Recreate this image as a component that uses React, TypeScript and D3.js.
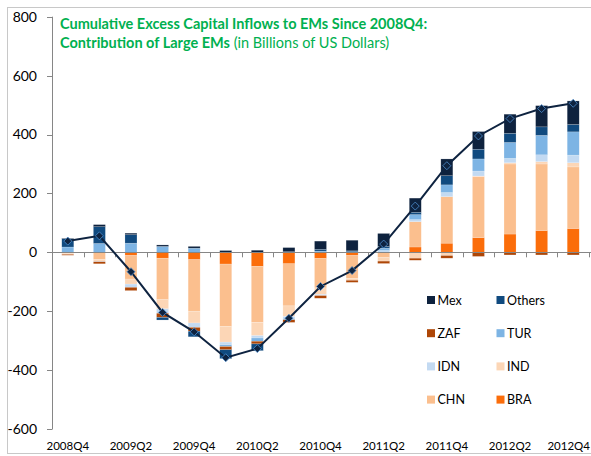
import * as d3 from 'd3';

const quarters = [
  '2008Q4', '2009Q1', '2009Q2', '2009Q3', '2009Q4', '2010Q1', '2010Q2', '2010Q3', '2010Q4',
  '2011Q1', '2011Q2', '2011Q3', '2011Q4', '2012Q1', '2012Q2', '2012Q3', '2012Q4',
];

// stacked contributions, billions USD
const BRA = [0, 0, -11, -20, -25, -40, -48, -39, -21, -11, 0, 18, 31, 50, 62, 74, 81];
const CHN = [-4, -24, -80, -141, -175, -212, -190, -143, -100, -78, -18, 86, 158, 207, 238, 226, 209];
const IND = [-3, -6, -17, -31, -40, -53, -45, -36, -22, -6, -12, -20, -11, 2, 4, 8, 14];
const IDN = [0, -2, -11, -15, -15, -9, -8, -7, -4, 0, 6, 7, 14, 17, 15, 23, 26];
const TUR = [18, 30, 31, 20, 14, -6, -11, -4, 4, 2, 8, 17, 26, 41, 54, 66, 79];
const ZAF = [-3, -7, -11, -14, -13, -11, -9, -9, -9, -7, -8, -7, -9, -14, -9, -9, -9];
const Others = [28, 57, 29, -9, -19, -30, -23, 2, 6, 3, 6, 8, 31, 33, 31, 29, 25];
const Mex = [2, 7, 5, 5, 6, 6, 7, 14, 28, 36, 44, 48, 57, 60, 65, 72, 80];

// total line
const total = [38, 56, -66, -204, -270, -358, -327, -224, -116, -62, 28, 157, 294, 395, 454, 488, 506];

const yTicks = [-600, -400, -200, 0, 200, 400, 600, 800];

const seriesKeys = ['BRA', 'CHN', 'IND', 'IDN', 'TUR', 'ZAF', 'Others', 'Mex'];
const seriesValues: Record<string, number[]> = { BRA, CHN, IND, IDN, TUR, ZAF, Others, Mex };
const colors: Record<string, string> = {
  BRA: '#fb6d0a',
  CHN: '#fbbf8e',
  IND: '#fcd6b6',
  IDN: '#c3daf2',
  TUR: '#7db4e4',
  ZAF: '#ae4606',
  Others: '#104a7f',
  Mex: '#0e223e',
};
const legendOrder = [['Mex', 'Others'], ['ZAF', 'TUR'], ['IDN', 'IND'], ['CHN', 'BRA']];

const W = 591;
const H = 456;
const font = 'Lato, "Open Sans", sans-serif';

export default function App() {
  const rows = quarters.map((q, i) => {
    const r: Record<string, any> = { q };
    seriesKeys.forEach(k => { r[k] = seriesValues[k][i]; });
    return r;
  });
  const stacked = d3.stack<any>().keys(seriesKeys).offset(d3.stackOffsetDiverging)(rows);

  const x = d3.scaleBand().domain(quarters).range([52, 589]).paddingInner(0.62).paddingOuter(0.31);
  const y = d3.scaleLinear().domain([-600, 800]).range([429, 16.7]);
  const step = x.step();
  const bw = x.bandwidth();
  const cx = (q: string) => (x(q) as number) + bw / 2;

  const line = d3.line<number>()
    .x((_, i) => cx(quarters[i]))
    .y(d => y(d));

  const grey = '#868686';

  return (
    <div style={{ position: 'absolute', left: 0, top: 0 }}>
      <svg width={W} height={H} style={{ display: 'block', background: '#fff' }} fontFamily={font}>
        <rect x={7.5} y={7.5} width={620} height={446} fill="none" stroke="#c8c8c8" />

        {stacked.map(s => (
          <g key={s.key} fill={colors[s.key]}>
            {s.map((d, i) => {
              const y0 = y(Math.max(d[0], d[1]));
              const y1 = y(Math.min(d[0], d[1]));
              if (y1 - y0 <= 0) return null;
              return (
                <rect key={i} x={x(quarters[i])} y={y0} width={bw} height={y1 - y0}
                  stroke="#ffffff" strokeOpacity={0.35} strokeWidth={0.5} />
              );
            })}
          </g>
        ))}

        {/* y axis */}
        <line x1={52.5} x2={52.5} y1={y(800)} y2={y(-600)} stroke={grey} />
        {yTicks.map(t => (
          <g key={t}>
            <line x1={47} x2={52.5} y1={Math.round(y(t)) + 0.5} y2={Math.round(y(t)) + 0.5} stroke={grey} />
            <text x={37} y={y(t)} dy="0.35em" textAnchor="end" fontSize={14} fill="#000">{t}</text>
          </g>
        ))}

        {/* x axis at zero */}
        <line x1={52} x2={W} y1={Math.round(y(0)) + 0.5} y2={Math.round(y(0)) + 0.5} stroke={grey} />
        {d3.range(quarters.length + 1).map(k => {
          const xx = Math.round(52 + step * k) + 0.5;
          return <line key={k} x1={xx} x2={xx} y1={y(0)} y2={y(0) + 5} stroke={grey} />;
        })}
        {quarters.map((q, i) => {
          if (i % 2 !== 0) return null;
          const last = i === quarters.length - 1;
          return (
            <text key={q} x={last ? W - 1 : cx(q)} y={450} textAnchor={last ? 'end' : 'middle'}
              fontSize={11.5} fill="#000">{q}</text>
          );
        })}

        {/* total line */}
        <path d={line(total) || ''} fill="none" stroke="#0e2340" strokeWidth={2} />
        {total.map((v, i) => {
          const px = cx(quarters[i]);
          const py = y(v);
          return (
            <path key={i} d={`M${px},${py - 4}L${px + 4},${py}L${px},${py + 4}L${px - 4},${py}Z`}
              fill="#0e2340" stroke="#4f8fcf" strokeWidth={0.8} />
          );
        })}

        {/* title */}
        <text x={60} y={29} fontSize={14.5} fontWeight="bold" fill="#00b050">
          Cumulative Excess Capital Inflows to EMs Since 2008Q4:
        </text>
        <text x={60} y={48} fontSize={14.5} fill="#00b050">
          <tspan fontWeight="bold">Contribution of Large EMs</tspan>
          <tspan> (in Billions of US Dollars)</tspan>
        </text>

        {/* legend */}
        {legendOrder.map((row, r) => row.map((k, c) => {
          const lx = 427 + c * 69.5;
          const ly = 300 + r * 33.2;
          return (
            <g key={k}>
              <rect x={lx} y={ly - 4} width={8} height={8} fill={colors[k]} />
              <text x={lx + 10.5} y={ly} dy="0.36em" fontSize={12.5} fill="#000">{k}</text>
            </g>
          );
        }))}
      </svg>
    </div>
  );
}
